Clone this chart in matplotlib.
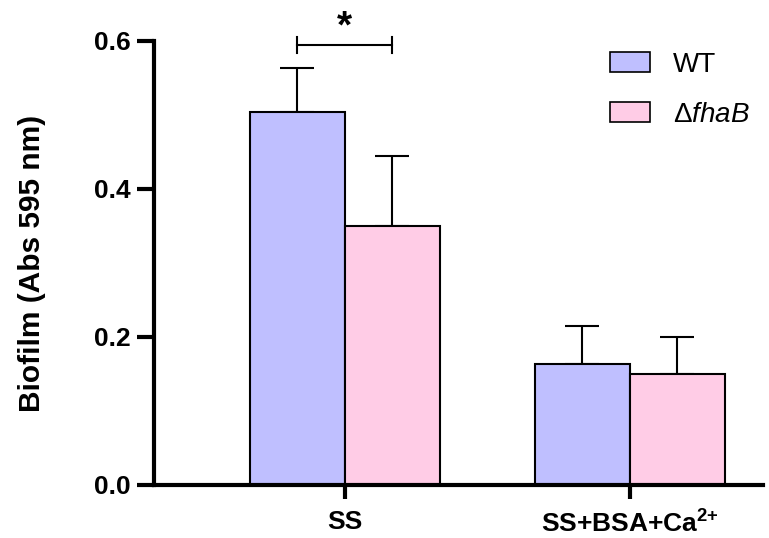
import numpy as np
import matplotlib.pyplot as plt
from matplotlib.patches import Patch

plt.rcParams['font.family'] = ['Liberation Sans', 'DejaVu Sans']
plt.rcParams['mathtext.fontset'] = 'custom'
plt.rcParams['mathtext.rm'] = 'Liberation Sans'
plt.rcParams['mathtext.it'] = 'Liberation Sans:italic'
plt.rcParams['mathtext.bf'] = 'Liberation Sans:bold'

groups = ['SS', r'SS+BSA+Ca$^{\mathbf{2{+}}}$']
strains = ['WT', r'$\Delta$$\it{fhaB}$']
wt_mean = [0.504, 0.164]
wt_sd = [0.060, 0.051]
ko_mean = [0.350, 0.150]
ko_sd = [0.095, 0.050]
colors = ['#BFBFFF', '#FFCCE6']

fig = plt.figure(figsize=(7.69, 5.38), dpi=100)
ax = fig.add_axes([154/769, 53/538, (763-154)/769, (485-41)/538])

x = np.arange(len(groups))
w = 0.333
for off, m, s, c in [(-w/2, wt_mean, wt_sd, colors[0]), (w/2, ko_mean, ko_sd, colors[1])]:
    ax.bar(x + off, m, w, color=c, edgecolor='black', linewidth=1.5, zorder=2)
    ax.errorbar(x + off, m, yerr=[np.zeros(len(s)), s], fmt='none', ecolor='black',
                elinewidth=1.5, capsize=12, capthick=1.5, zorder=1)

ax.set_xlim(-0.670, 1.467)
ax.set_ylim(0, 0.6)
ax.set_yticks([0.0, 0.2, 0.4, 0.6])
ax.set_yticklabels(['0.0', '0.2', '0.4', '0.6'])
ax.set_xticks(x)
ax.set_xticklabels(groups)
for lab in ax.get_xticklabels() + ax.get_yticklabels():
    lab.set_fontweight('bold')
    lab.set_fontsize(19)
ax.tick_params(axis='both', width=3, length=12, pad=5)
ax.tick_params(axis='x', length=10, pad=8)
for sp in ['top', 'right']:
    ax.spines[sp].set_visible(False)
for sp in ['left', 'bottom']:
    ax.spines[sp].set_linewidth(3)
ax.set_ylabel('Biofilm (Abs 595 nm)', fontsize=21.5, fontweight='bold', labelpad=34)

# significance bracket
yb = 0.595
x1, x2 = -w/2, w/2
ax.plot([x1, x2], [yb, yb], color='black', lw=1.5, clip_on=False)
ax.plot([x1, x1], [yb - 0.011, yb + 0.011], color='black', lw=1.5, clip_on=False)
ax.plot([x2, x2], [yb - 0.011, yb + 0.011], color='black', lw=1.5, clip_on=False)
ax.text(0, 0.594, '*', ha='center', va='bottom', fontsize=28, fontweight='bold')

handles = [Patch(facecolor=colors[0], edgecolor='black', linewidth=1.2),
           Patch(facecolor=colors[1], edgecolor='black', linewidth=1.2)]
ax.legend(handles, strains, loc='upper left', bbox_to_anchor=(0.749, 0.975), frameon=False,
          fontsize=20, handlelength=1.45, handleheight=0.72, labelspacing=0.86,
          handletextpad=0.8, borderpad=0, borderaxespad=0)

fig.savefig('out.png', dpi=100)
